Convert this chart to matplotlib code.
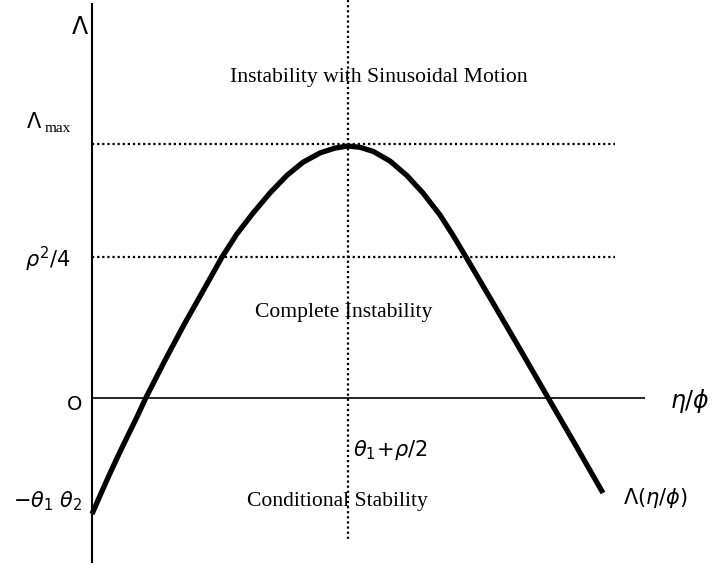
import matplotlib
matplotlib.use("Agg")
import matplotlib.pyplot as plt

# ---- data (arbitrary units: peak at x=1, Lambda_max = 1) ----
eta_phi = [0.000, 0.035, 0.070, 0.105, 0.141, 0.176, 0.211, 0.285, 0.359, 0.434,
           0.508, 0.566, 0.629, 0.695, 0.762, 0.824, 0.891, 0.949, 1.000, 1.047,
           1.098, 1.164, 1.230, 1.293, 1.359, 1.410, 1.461, 1.531, 1.605, 1.691,
           1.781, 1.887, 1.996]
Lambda = [-0.459, -0.378, -0.299, -0.223, -0.148, -0.076, 0.000, 0.146, 0.286, 0.420,
          0.553, 0.644, 0.726, 0.805, 0.875, 0.926, 0.963, 0.982, 0.990, 0.985,
          0.969, 0.931, 0.874, 0.805, 0.719, 0.639, 0.553, 0.433, 0.306, 0.157,
          0.000, -0.184, -0.376]
Lambda_max = 1.0
rho2_over_4 = 0.553
peak_pos = 1.0

region_labels = ["Instability with Sinusoidal Motion", "Complete Instability",
                 "Conditional Stability"]

# ---- pixel helpers for the 723x568 canvas ----
def X(px):
    return (px - 92) / 256.0

def Y(py):
    return (397.5 - py) / 254.0

fig = plt.figure(figsize=(7.23, 5.68), dpi=100)
ax = fig.add_axes([0, 0, 1, 1])
ax.set_xlim(X(0), X(723))
ax.set_ylim(Y(568), Y(0))
ax.axis("off")

# axes
ax.plot([0, 0], [Y(3), Y(563)], color="black", lw=1.5, solid_capstyle="butt")
ax.plot([0, X(645)], [0, 0], color="black", lw=1.2, solid_capstyle="butt")

# dotted reference lines
dot = dict(color="black", lw=1.6, linestyle=(0, (1, 1.3)))
ax.plot([0, X(615)], [Lambda_max, Lambda_max], **dot)
ax.plot([0, X(615)], [rho2_over_4, rho2_over_4], **dot)
ax.plot([peak_pos, peak_pos], [Y(0), Y(540)], **dot)

# curve
ax.plot(eta_phi, Lambda, color="black", lw=3.8, solid_joinstyle="round",
        solid_capstyle="butt")

serif = "Liberation Serif"
sans = "DejaVu Sans"

ax.text(X(230), Y(82), region_labels[0], family=serif, fontsize=15.6,
        ha="left", va="baseline")
ax.text(X(255), Y(317), region_labels[1], family=serif, fontsize=15.6,
        ha="left", va="baseline")
ax.text(X(247), Y(506), region_labels[2], family=serif, fontsize=15.6,
        ha="left", va="baseline")

# math labels
ax.text(X(79.5), Y(27), "Λ", family=sans, fontsize=17, ha="center", va="center")
ax.text(X(34), Y(121.5), "Λ", family=sans, fontsize=15, ha="center", va="center")
ax.text(X(45), Y(132), "max", family=serif, fontsize=11, ha="left", va="baseline")
ax.text(X(25), Y(259), r"$\rho^2$/4", family=sans, fontsize=15, ha="left", va="center")
ax.text(X(75), Y(404), "O", family=sans, fontsize=14, ha="center", va="center")
ax.text(X(83), Y(501), r"$-\theta_1\ \theta_2$", family=sans, fontsize=15,
        ha="right", va="center")
ax.text(X(353), Y(450), r"$\theta_1\!+\!\rho/2$", family=sans, fontsize=15,
        ha="left", va="center")
ax.text(X(670), Y(401), r"$\eta/\phi$", family=sans, fontsize=17, ha="left", va="center")
ax.text(X(623), Y(498), r"$\Lambda(\eta/\phi)$", family=sans, fontsize=15,
        ha="left", va="center")

fig.savefig("out.png", dpi=100)
